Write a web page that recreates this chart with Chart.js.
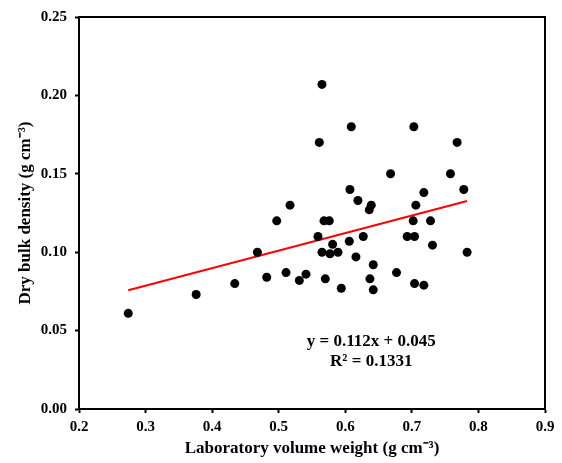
<!DOCTYPE html>
<html>
<head>
<meta charset="utf-8">
<script src="https://cdn.jsdelivr.net/npm/chart.js@4.4.1/dist/chart.umd.min.js"></script>
<style>
  html, body { margin: 0; padding: 0; background: #ffffff; }
  #wrap { width: 562px; height: 463px; }
</style>
</head>
<body>
<div id="wrap"><canvas id="scatter_chart"></canvas></div>
<script>
// laboratory volume weight (g cm-3)
const lab_volume = [0.274,0.376,0.434,0.468,0.482,0.497,0.517,0.511,0.531,0.541,
  0.565,0.561,0.559,0.565,0.609,0.703,0.768,0.668,0.758,0.607,
  0.718,0.778,0.619,0.639,0.636,0.706,0.568,0.576,0.702,0.728,
  0.581,0.606,0.627,0.693,0.704,0.731,0.577,0.589,0.616,0.783,
  0.642,0.570,0.677,0.637,0.594,0.642,0.704,0.718];
// dry bulk density (g cm-3)
const dry_density = [0.061,0.073,0.080,0.100,0.084,0.120,0.130,0.087,0.082,0.086,
  0.207,0.170,0.110,0.100,0.180,0.180,0.170,0.150,0.150,0.140,
  0.138,0.140,0.133,0.130,0.127,0.130,0.120,0.120,0.120,0.120,
  0.105,0.107,0.110,0.110,0.110,0.1045,0.099,0.100,0.097,0.100,
  0.092,0.083,0.087,0.083,0.077,0.076,0.080,0.079];
const x_ticks = [0.2,0.3,0.4,0.5,0.6,0.7,0.8,0.9];
const y_ticks = [0.00,0.05,0.10,0.15,0.20,0.25];
const fit_slope = 0.112;
const fit_intercept = 0.045;
const fit_text = ["y = 0.112x + 0.045", "R² = 0.1331"];

const serif = "'Liberation Serif', 'Times New Roman', serif";

const points = lab_volume.map((v, i) => ({x: v, y: dry_density[i]}));
const x_min = Math.min(...lab_volume);
const x_max = Math.max(...lab_volume);
const fit_line = [
  {x: x_min, y: fit_slope * x_min + fit_intercept},
  {x: x_max, y: fit_slope * x_max + fit_intercept},
];

// box round the plot and the equation text
const frame_plugin = {
  id: 'frame',
  afterDraw(chart) {
    const {ctx, chartArea: a, scales} = chart;
    ctx.save();
    ctx.strokeStyle = '#000000';
    ctx.lineWidth = 2;
    ctx.strokeRect(a.left, a.top, a.right - a.left, a.bottom - a.top);
    ctx.fillStyle = '#000000';
    ctx.font = "bold 17px " + serif;
    ctx.textAlign = 'center';
    ctx.textBaseline = 'middle';
    const tx = scales.x.getPixelForValue(0.639);
    ctx.fillText(fit_text[0], tx, scales.y.getPixelForValue(0.0430));
    ctx.fillText(fit_text[1], tx, scales.y.getPixelForValue(0.0302));
    ctx.restore();
  }
};

new Chart(document.getElementById("scatter_chart"), {
  type: 'scatter',
  data: {
    datasets: [
      {
        label: 'Dry bulk density',
        data: points,
        backgroundColor: '#000000',
        borderWidth: 0,
        pointRadius: 4.5,
        pointHoverRadius: 4.5,
        order: 1,
      },
      {
        type: 'line',
        label: 'Linear fit',
        data: fit_line,
        borderColor: '#ff0000',
        borderWidth: 2,
        pointRadius: 0,
        fill: false,
        order: 2,
      }
    ]
  },
  options: {
    responsive: true,
    maintainAspectRatio: false,
    animation: false,
    layout: { padding: { top: 16, right: 17, bottom: 0, left: 0 } },
    plugins: {
      legend: { display: false },
      tooltip: { enabled: false },
    },
    scales: {
      x: {
        type: 'linear',
        min: 0.2,
        max: 0.9,
        afterFit: (s) => { s.height = 54; },
        afterBuildTicks: (s) => { s.ticks = x_ticks.map(v => ({value: v})); },
        ticks: {
          color: '#000000',
          padding: 5,
          font: { family: serif, size: 15, weight: 'bold' },
          callback: (v) => v.toFixed(1),
        },
        grid: { drawOnChartArea: false, tickLength: 4, tickColor: '#000000', tickWidth: 2 },
        border: { color: '#000000', width: 2 },
        title: {
          display: true,
          text: 'Laboratory volume weight (g cm⁻³)',
          color: '#000000',
          font: { family: serif, size: 17, weight: 'bold' },
          padding: { top: 0, bottom: 4 },
        },
      },
      y: {
        type: 'linear',
        min: 0,
        max: 0.25,
        afterFit: (s) => { s.width = 79; },
        afterBuildTicks: (s) => { s.ticks = y_ticks.map(v => ({value: v})); },
        ticks: {
          color: '#000000',
          padding: 8,
          font: { family: serif, size: 15, weight: 'bold' },
          callback: (v) => v.toFixed(2),
        },
        grid: { drawOnChartArea: false, tickLength: 4, tickColor: '#000000', tickWidth: 2 },
        border: { color: '#000000', width: 2 },
        title: {
          display: true,
          text: 'Dry bulk density (g cm⁻³)',
          color: '#000000',
          font: { family: serif, size: 17, weight: 'bold' },
          padding: { top: 15, bottom: 0 },
        },
      },
    },
  },
  plugins: [frame_plugin],
});
</script>
</body>
</html>
